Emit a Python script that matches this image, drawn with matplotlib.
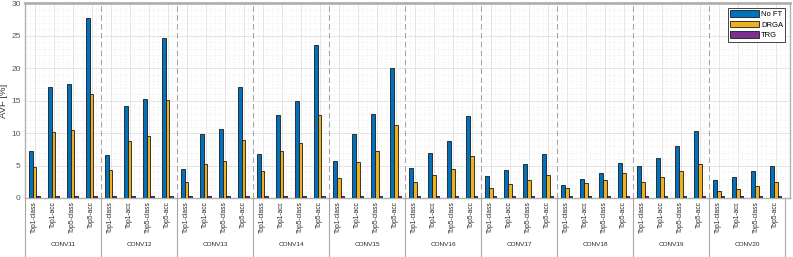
import numpy as np
import matplotlib
matplotlib.use("Agg")
import matplotlib.pyplot as plt
from matplotlib.ticker import MultipleLocator

plt.rcParams['font.family'] = ['Liberation Sans', 'DejaVu Sans']

groups = ["CONV11", "CONV12", "CONV13", "CONV14", "CONV15",
          "CONV16", "CONV17", "CONV18", "CONV19", "CONV20"]
metrics = ["Top1-class", "Top1-acc", "Top5-class", "Top5-acc"]

no_ft = [7.2, 17.1, 17.6, 27.7,
         6.6, 14.1, 15.3, 24.6,
         4.4, 9.8, 10.6, 17.1,
         6.7, 12.7, 14.9, 23.5,
         5.7, 9.9, 12.9, 20.0,
         4.6, 6.9, 8.7, 12.6,
         3.4, 4.3, 5.3, 6.8,
         2.05, 2.9, 3.85, 5.4,
         4.9, 6.2, 8.05, 10.3,
         2.7, 3.2, 4.2, 4.9]
drga = [4.7, 10.15, 10.5, 16.0,
        4.3, 8.8, 9.6, 15.1,
        2.5, 5.3, 5.7, 9.0,
        4.1, 7.2, 8.4, 12.8,
        3.1, 5.5, 7.2, 11.2,
        2.4, 3.6, 4.5, 6.5,
        1.6, 2.2, 2.7, 3.5,
        1.5, 2.3, 2.8, 3.85,
        2.4, 3.2, 4.15, 5.3,
        1.1, 1.4, 1.9, 2.4]
trg = [0.25] * 40

blue = "#0072BD"
orange = "#EDB120"
purple = "#7E2F8E"

fig = plt.figure(figsize=(7.93, 2.57), dpi=100)
ax = fig.add_axes([25 / 793, 1 - 198 / 257, 765 / 793, 195 / 257])

x = np.arange(len(no_ft))
w = 0.2
ax.bar(x - w, no_ft, w, color=blue, edgecolor="#1a1a1a", linewidth=0.6, label="No FT", zorder=3)
ax.bar(x, drga, w, color=orange, edgecolor="#1a1a1a", linewidth=0.6, label="DRGA", zorder=3)
ax.bar(x + w, trg, w, color=purple, edgecolor="#1a1a1a", linewidth=0.6, label="TRG", zorder=3)

ax.set_xlim(-0.5, len(no_ft) - 0.5)
ax.set_ylim(0, 30)
ax.yaxis.set_major_locator(MultipleLocator(5))
ax.yaxis.set_minor_locator(MultipleLocator(1))
ax.set_xticks(x)
ax.set_xticks(np.arange(-0.5, len(no_ft), 0.25), minor=True)
ax.set_xticklabels(metrics * len(groups), rotation=90, fontsize=4.8, color="#262626")
ax.tick_params(axis="y", labelsize=6, colors="#555555", length=0, pad=3)
ax.tick_params(axis="x", length=0, pad=2.5)
ax.tick_params(which="minor", length=0)
ax.set_ylabel("AVF [%]", fontsize=6.8, color="#333333", labelpad=2.5)

ax.grid(which="major", color="#e0e0e0", linewidth=0.6, zorder=0)
ax.grid(which="minor", color="#e6e6e6", linewidth=0.5, linestyle=(0, (1, 2)), zorder=0)
ax.set_axisbelow(True)

for s in ax.spines.values():
    s.set_color("#b0b0b0")
    s.set_linewidth(1.0)
ax.spines["top"].set_linewidth(2.0)

# group separators
n = len(metrics)
for g in range(1, len(groups)):
    ax.axvline(g * n - 0.5, color="#a6a6a6", linestyle=(0, (5, 3)), linewidth=0.8, zorder=2)
for g in range(len(groups) + 1):
    ax.plot([g * n - 0.5, g * n - 0.5], [0, -0.3], transform=ax.get_xaxis_transform(),
            color="#a6a6a6", linewidth=0.8, clip_on=False)
for g, name in enumerate(groups):
    ax.text(g * n + (n - 1) / 2, -0.241, name, transform=ax.get_xaxis_transform(),
            ha="center", va="center", fontsize=4.6, color="#262626")

leg = ax.legend(loc="upper right", fontsize=5.5, frameon=True, fancybox=False,
                handlelength=3.7, handleheight=1.0, handletextpad=0.3,
                borderpad=0.3, labelspacing=0.35, borderaxespad=0.6)
leg.get_frame().set_edgecolor("#262626")
leg.get_frame().set_linewidth(0.6)
leg.get_frame().set_alpha(1)

fig.savefig("out.png", dpi=100)
